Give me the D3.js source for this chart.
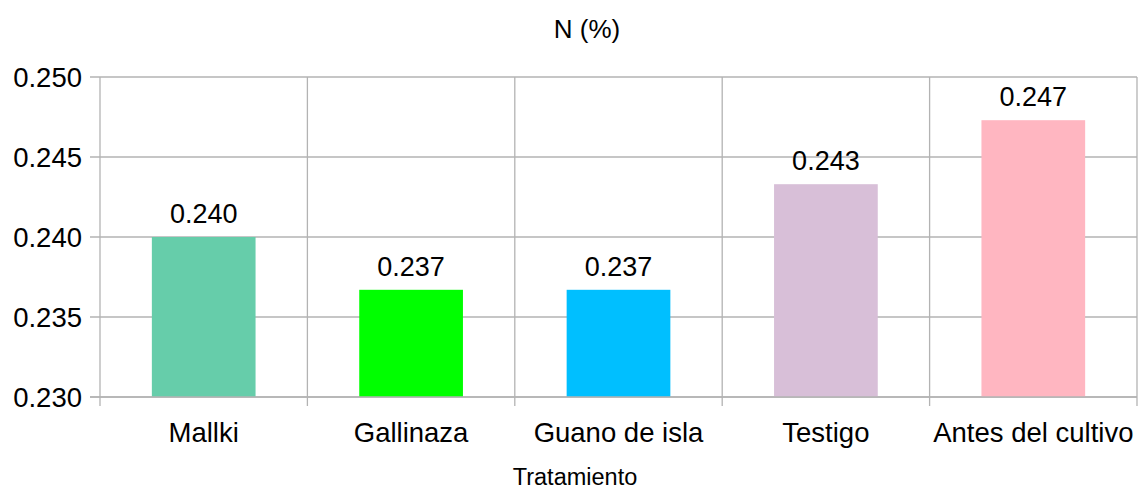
<!DOCTYPE html>
<html>
<head>
<meta charset="utf-8">
<script src="https://cdn.jsdelivr.net/npm/d3@7"></script>
<style>
  body { margin: 0; background: #fff; }
  text { font-family: "Liberation Sans", Arial, sans-serif; fill: #000; }
</style>
</head>
<body>
<svg id="chart"></svg>
<script>
  const categories = ['Mallki', 'Gallinaza', 'Guano de isla', 'Testigo', 'Antes del cultivo'];
  const values = [0.2400, 0.2367, 0.2367, 0.2433, 0.2473];
  const colors = ['#66cdaa', '#00ff00', '#00bfff', '#d8bfd8', '#ffb6c1'];
  const yTicks = [0.230, 0.235, 0.240, 0.245, 0.250];

  const width = 1138;
  const height = 489;
  const margin = { top: 77, right: 1, bottom: 92, left: 100 };
  const innerWidth = width - margin.left - margin.right;
  const innerHeight = height - margin.top - margin.bottom;

  const svg = d3.select('#chart')
      .attr('width', width)
      .attr('height', height);

  const g = svg.append('g')
      .attr('transform', `translate(${margin.left},${margin.top})`);

  const x = d3.scaleBand()
    .domain(categories)
    .range([0, innerWidth])
    .paddingInner(0)
    .paddingOuter(0);

  const y = d3.scaleLinear()
    .domain([0.230, 0.250])
    .range([innerHeight, 0]);

  const gridColor = '#b3b3b3';

  // horizontal grid + ticks
  g.selectAll('.hgrid').data(yTicks)
    .enter().append('line')
      .attr('x1', -10)
      .attr('x2', innerWidth)
      .attr('y1', d => y(d))
      .attr('y2', d => y(d))
      .attr('stroke', gridColor)
      .attr('stroke-width', 1.3);

  // vertical dividers between categories
  const dividers = categories.map(c => x(c)).concat([innerWidth]);
  g.selectAll('.vgrid').data(dividers)
    .enter().append('line')
      .attr('x1', d => d)
      .attr('x2', d => d)
      .attr('y1', 0)
      .attr('y2', innerHeight + 9)
      .attr('stroke', gridColor)
      .attr('stroke-width', 1.3);

  // bars
  const barW = x.bandwidth() * 0.5;
  g.selectAll('rect').data(values)
    .enter().append('rect')
      .attr('x', (d, i) => x(categories[i]) + (x.bandwidth() - barW) / 2)
      .attr('y', d => y(d))
      .attr('width', barW)
      .attr('height', d => innerHeight - y(d))
      .attr('fill', (d, i) => colors[i]);

  // bottom axis line on top of bars
  g.append('line')
    .attr('x1', -10).attr('x2', innerWidth)
    .attr('y1', innerHeight).attr('y2', innerHeight)
    .attr('stroke', gridColor)
    .attr('stroke-width', 1.3);

  // value labels
  g.selectAll('.val').data(values)
    .enter().append('text')
      .attr('x', (d, i) => x(categories[i]) + x.bandwidth() / 2)
      .attr('y', d => y(d) - 14)
      .attr('text-anchor', 'middle')
      .attr('font-size', 27)
      .text(d => d3.format('.3f')(d));

  // y tick labels
  g.selectAll('.ytick').data(yTicks)
    .enter().append('text')
      .attr('x', -18)
      .attr('y', d => y(d))
      .attr('dy', '0.36em')
      .attr('text-anchor', 'end')
      .attr('font-size', 27.5)
      .text(d => d3.format('.3f')(d));

  // category labels
  g.selectAll('.xcat').data(categories)
    .enter().append('text')
      .attr('x', d => x(d) + x.bandwidth() / 2)
      .attr('y', innerHeight + 45)
      .attr('text-anchor', 'middle')
      .attr('font-size', 27.5)
      .text(d => d);

  // titles
  svg.append('text')
    .attr('x', 587)
    .attr('y', 38)
    .attr('text-anchor', 'middle')
    .attr('font-size', 26)
    .text('N (%)');

  svg.append('text')
    .attr('x', 575)
    .attr('y', 485)
    .attr('text-anchor', 'middle')
    .attr('font-size', 23.5)
    .text('Tratamiento');
</script>
</body>
</html>
